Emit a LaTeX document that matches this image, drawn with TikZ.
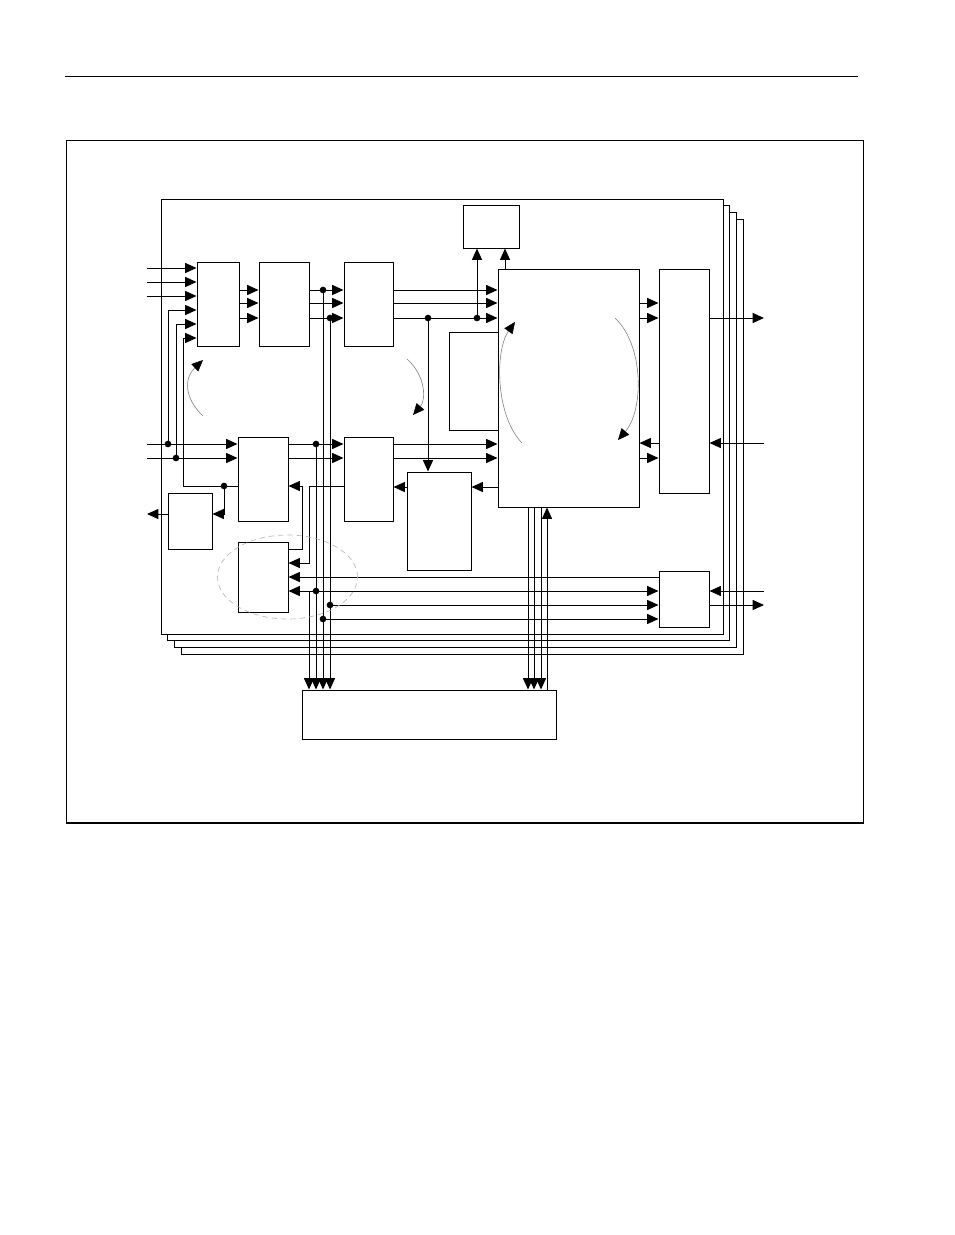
\documentclass[tikz,border=0pt]{standalone}
\usepackage{tikz}
\usetikzlibrary{arrows.meta, fit, calc}

\begin{document}
\begin{tikzpicture}[
  x=0.75pt, y=-0.75pt,
  line width=0.75pt,
  blk/.style={draw, fill=white, inner sep=0pt},
  pg/.style={draw, fill=white},
  arr/.style={-{Triangle[length=8.5pt, width=7.5pt]}},
  curv/.style={gray, line width=0.45pt, -{Triangle[length=8.5pt, width=7.5pt, color=black]}},
  zone/.style={gray!55, dash pattern=on 4pt off 3pt, line width=0.5pt},
]
  \useasboundingbox (0,0) rectangle (954,1235);

  % header rule and figure frame
  \draw (65,76) -- (858,76);
  \draw (66,140) rectangle (863,823);
  \draw[line width=1.5pt] (66,823) -- (863,823);

  % stacked pages
  \foreach \k in {3,2,1}
    \draw[pg] ({161+6.7*\k},{199+6.7*\k}) rectangle ({723+6.7*\k},{634+6.7*\k});
  \draw[pg] (161,199) rectangle (723,634);

  % blocks
  \node[blk, fit={(197,262) (239,346)}] (A) {};
  \node[blk, fit={(259,262) (309,346)}] (B) {};
  \node[blk, fit={(344,262) (393,346)}] (C) {};
  \node[blk, fit={(238,437) (288,521)}] (D) {};
  \node[blk, fit={(168,493) (212,549)}] (E) {};
  \node[blk, fit={(344,437) (393,521)}] (F) {};
  \node[blk, fit={(238,542) (288,612)}] (G) {};
  \node[blk, fit={(463,205) (519,248)}] (J) {};
  \node[blk, fit={(498,269) (639,507)}] (I) {};
  \node[blk, fit={(449,332) (498,430)}] (L) {};
  \node[blk, fit={(407,472) (471,570)}] (K) {};
  \node[blk, fit={(659,269) (709,493)}] (M) {};
  \node[blk, fit={(659,571) (709,627)}] (H) {};
  \node[blk, fit={(302,690) (556,739)}] (N) {};

  \coordinate (lft) at (147,0);
  \coordinate (rgt) at (764,0);

  % left side inputs
  \foreach \y in {268,282,296}
    \draw[arr] (lft |- 0,\y) -- (A.west |- 0,\y);
  \foreach \y in {444,458}
    \draw[arr] (lft |- 0,\y) -- (D.west |- 0,\y);
  \draw[arr] (168,444) |- (A.west |- 0,310);
  \draw[arr] (176,458) |- (A.west |- 0,324);
  \draw[arr] (D.west |- 0,486) -| (183,338) -- (A.west |- 0,338);
  \draw[arr] (224,486) |- (E.east |- 0,514);
  \draw[arr] (E.west |- 0,514) -- (lft |- 0,514);

  % upper chain
  \foreach \y in {290,303,318} {
    \draw[arr] (A.east |- 0,\y) -- (B.west |- 0,\y);
    \draw[arr] (B.east |- 0,\y) -- (C.west |- 0,\y);
    \draw[arr] (C.east |- 0,\y) -- (I.west |- 0,\y);
  }
  \draw[arr] (477,318) -- (477,0 |- J.south);
  \draw[arr] (I.north -| 505,0) -- (J.south -| 505,0);
  \draw[arr] (428,318) -- (428,0 |- K.north);

  % lower chain
  \foreach \y in {444,458} {
    \draw[arr] (D.east |- 0,\y) -- (F.west |- 0,\y);
    \draw[arr] (F.east |- 0,\y) -- (I.west |- 0,\y);
  }
  \draw[arr] (I.west |- 0,487) -- (K.east |- 0,487);
  \draw[arr] (K.west |- 0,487) -- (F.east |- 0,487);
  \draw[arr] (F.west |- 0,486) -| (309,563) -- (G.east |- 0,563);
  \draw[arr] (G.east |- 0,549) -| (302,486) -- (D.east |- 0,486);
  \draw[arr] (H.west |- 0,577) -- (G.east |- 0,577);
  \draw[arr] (309,591) -- (G.east |- 0,591);
  \draw[arr] (309,591) -- (H.west |- 0,591);
  \draw[arr] (330,605) -- (H.west |- 0,605);
  \draw[arr] (323,619) -- (H.west |- 0,619);

  % buses to the bottom block
  \draw[arr] (309,591) -- (309,0 |- N.north);
  \draw[arr] (316,444) -- (316,0 |- N.north);
  \draw[arr] (323,290) -- (323,0 |- N.north);
  \draw[arr] (330,318) -- (330,0 |- N.north);
  \foreach \x in {528,534,541}
    \draw[arr] (I.south -| \x,0) -- (N.north -| \x,0);
  \draw[arr] (N.north -| 547,0) -- (I.south -| 547,0);

  % right side
  \foreach \y in {303,318}
    \draw[arr] (I.east |- 0,\y) -- (M.west |- 0,\y);
  \draw[arr] (M.west |- 0,443) -- (I.east |- 0,443);
  \draw[arr] (I.east |- 0,458) -- (M.west |- 0,458);
  \draw[arr] (M.east |- 0,318) -- (rgt |- 0,318);
  \draw[arr] (rgt |- 0,443) -- (M.east |- 0,443);
  \draw[arr] (rgt |- 0,591) -- (H.east |- 0,591);
  \draw[arr] (H.east |- 0,605) -- (rgt |- 0,605);

  % junction dots
  \foreach \p in {(168,444),(176,458),(224,486),(323,290),(330,318),(428,318),
                  (477,318),(316,444),(316,591),(330,605),(323,619)}
    \fill \p circle[radius=2.5pt];

  % flow curves
  \draw[curv] (203,416) .. controls (184,398) and (184,378) .. (203,360);
  \draw[curv] (407,359) .. controls (426,376) and (426,400) .. (413,415);
  \draw[curv] (522,443) .. controls (495,415) and (495,350) .. (515,322);
  \draw[curv] (615,318) .. controls (644,345) and (644,410) .. (618,440);

  % dashed zone
  \draw[zone] (287.5,577) ellipse [x radius=52.5pt, y radius=31.5pt];
\end{tikzpicture}
\end{document}
